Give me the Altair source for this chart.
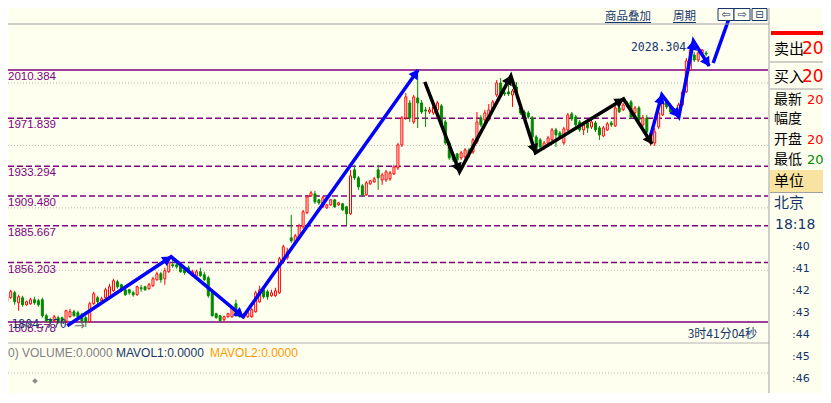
import math
import altair as alt
import pandas as pd

BG = "#FFFFF0"
RED = "#FF0000"
GREEN = "#008A00"
PURPLE = "#800080"
NAVY = "#14366B"
BLUE = "#0000FF"
W, H = 815, 385
X_DOM = [1.575, 205.325]
Y_DOM = [1751.72, 2060.03]

# ---------------- candle data ----------------
opens = [1824.8, 1828.0, 1832.0, 1824.0, 1828.0, 1822.4, 1823.2, 1826.4, 1825.6, 1826.4,
         1813.6, 1810.4, 1809.6, 1812.0, 1812.0, 1808.8, 1812.8, 1816.8, 1816.0, 1814.4,
         1812.0, 1808.8, 1823.2, 1828.0, 1825.6, 1828.0, 1828.0, 1833.6, 1840.8, 1838.4,
         1834.4, 1834.4, 1832.0, 1830.4, 1836.0, 1836.8, 1835.2, 1837.6, 1842.4, 1847.2,
         1843.2, 1848.8, 1854.4, 1854.4, 1853.6, 1850.4, 1852.0, 1845.6, 1845.6, 1848.8,
         1846.4, 1844.0, 1832.0, 1815.2, 1813.6, 1810.4, 1812.8, 1812.8, 1823.2, 1816.8,
         1812.0, 1812.8, 1812.8, 1816.8, 1824.8, 1834.4, 1832.8, 1829.6, 1829.6, 1832.0,
         1856.8, 1860.0, 1876.0, 1872.0, 1876.0, 1884.8, 1896.0, 1909.6, 1911.2, 1906.4,
         1900.8, 1900.0, 1902.4, 1906.4, 1902.4, 1903.2, 1900.8, 1895.2, 1930.4, 1924.0,
         1917.6, 1910.4, 1919.2, 1920.8, 1930.4, 1922.4, 1922.4, 1923.2, 1927.2, 1932.0,
         1950.4, 1972.0, 1984.0, 1968.8, 1988.0, 1984.0, 1978.4, 1976.8, 1976.0, 1978.4,
         1981.6, 1968.8, 1952.0, 1942.4, 1943.2, 1940.0, 1940.8, 1946.4, 1944.8, 1952.8,
         1972.0, 1970.4, 1970.4, 1978.4, 1990.4, 2000.0, 1992.0, 1992.8, 1990.4, 1996.8,
         1980.0, 1976.8, 1976.0, 1972.0, 1956.8, 1954.4, 1948.0, 1952.0, 1954.4, 1962.4,
         1960.0, 1952.0, 1962.4, 1975.2, 1972.8, 1968.8, 1962.4, 1968.0, 1964.8, 1968.0,
         1964.0, 1957.6, 1962.4, 1968.0, 1965.6, 1980.0, 1978.4, 1984.0, 1984.8, 1976.0,
         1980.0, 1966.4, 1972.0, 1952.0, 1952.0, 1964.8, 1974.4, 1984.8, 1980.8, 1978.4,
         1978.4, 1982.4, 1992.8, 2010.4, 2022.4, 2018.4, 2024.0, 2024.0]
highs = [1830.4, 1834.4, 1833.6, 1830.4, 1829.6, 1825.6, 1828.0, 1828.8, 1827.2, 1828.0,
         1815.2, 1812.0, 1814.4, 1813.6, 1812.8, 1818.4, 1819.2, 1818.4, 1817.6, 1816.0,
         1813.6, 1824.8, 1832.8, 1829.6, 1828.8, 1836.0, 1839.2, 1843.2, 1842.4, 1839.2,
         1835.2, 1835.2, 1833.6, 1837.6, 1838.4, 1837.6, 1840.0, 1844.8, 1848.8, 1848.8,
         1852.0, 1860.0, 1858.4, 1856.8, 1856.0, 1852.0, 1853.6, 1850.4, 1850.4, 1852.0,
         1848.8, 1845.6, 1832.8, 1816.0, 1814.4, 1813.6, 1816.0, 1821.6, 1826.4, 1818.4,
         1816.0, 1816.8, 1820.0, 1833.6, 1837.6, 1836.0, 1834.4, 1834.4, 1836.0, 1860.8,
         1870.4, 1868.0, 1894.4, 1879.2, 1887.2, 1898.4, 1910.4, 1913.6, 1913.6, 1907.2,
         1909.6, 1903.2, 1907.2, 1907.2, 1904.8, 1904.0, 1901.6, 1930.4, 1934.4, 1925.6,
         1919.2, 1921.6, 1922.4, 1924.8, 1934.4, 1928.0, 1930.4, 1929.6, 1934.4, 1952.0,
         1973.6, 1992.0, 1986.4, 1990.4, 2006.4, 1986.4, 1980.8, 1980.8, 1983.2, 1985.6,
         1983.2, 1970.4, 1953.6, 1944.0, 1944.0, 1945.6, 1948.0, 1948.0, 1956.0, 1976.8,
         1974.4, 1978.4, 1983.2, 1986.4, 2002.4, 2004.0, 1996.0, 1998.4, 1995.2, 2000.8,
         1981.6, 1978.4, 1977.6, 1973.6, 1958.4, 1956.0, 1953.6, 1957.6, 1964.0, 1964.0,
         1961.6, 1964.8, 1976.0, 1976.8, 1974.4, 1970.4, 1968.0, 1969.6, 1970.4, 1969.6,
         1965.6, 1965.6, 1968.8, 1969.6, 1983.2, 1981.6, 1984.0, 1985.6, 1986.4, 1981.6,
         1981.6, 1974.4, 1974.4, 1961.6, 1964.0, 1978.4, 1986.4, 1986.4, 1982.4, 1980.0,
         1984.0, 1994.4, 2020.0, 2028.304, 2024.8, 2025.6, 2027.2, 2025.6]
lows = [1823.2, 1827.2, 1822.4, 1817.6, 1820.8, 1821.6, 1822.4, 1822.4, 1820.8, 1812.0,
        1808.0, 1807.2, 1808.8, 1807.2, 1808.0, 1808.0, 1812.0, 1812.8, 1812.0, 1807.2,
        1804.77, 1808.0, 1822.4, 1822.4, 1824.0, 1827.2, 1827.2, 1832.8, 1835.2, 1832.8,
        1829.6, 1830.4, 1828.8, 1829.6, 1832.8, 1833.6, 1834.4, 1836.8, 1841.6, 1840.0,
        1838.4, 1848.0, 1852.0, 1851.2, 1848.0, 1846.4, 1848.0, 1844.8, 1844.0, 1844.8,
        1841.6, 1828.0, 1812.8, 1811.2, 1808.8, 1808.8, 1812.0, 1812.0, 1812.8, 1812.0,
        1811.2, 1812.0, 1812.0, 1816.0, 1824.0, 1827.2, 1826.4, 1828.8, 1828.8, 1831.2,
        1855.2, 1858.4, 1872.0, 1870.4, 1874.4, 1883.2, 1895.2, 1908.8, 1903.2, 1902.4,
        1900.0, 1899.2, 1901.6, 1900.0, 1901.6, 1897.6, 1885.6, 1894.4, 1922.4, 1914.4,
        1908.8, 1909.6, 1918.4, 1920.0, 1914.4, 1918.4, 1920.8, 1921.6, 1926.4, 1930.4,
        1948.8, 1970.4, 1968.8, 1967.2, 1964.0, 1975.2, 1964.8, 1975.2, 1974.4, 1976.8,
        1964.8, 1950.4, 1938.4, 1936.8, 1936.0, 1938.4, 1939.2, 1940.0, 1943.2, 1951.2,
        1964.8, 1968.8, 1969.6, 1976.8, 1988.8, 1988.8, 1989.6, 1989.6, 1980.8, 1990.4,
        1974.4, 1970.4, 1971.2, 1955.2, 1944.8, 1947.2, 1946.4, 1950.4, 1952.8, 1948.8,
        1955.2, 1950.4, 1961.6, 1969.6, 1964.8, 1960.8, 1958.4, 1960.0, 1963.2, 1960.8,
        1954.4, 1956.8, 1961.6, 1964.8, 1964.8, 1976.0, 1977.6, 1980.8, 1971.2, 1974.4,
        1968.8, 1964.8, 1954.4, 1949.6, 1949.6, 1963.2, 1973.6, 1979.2, 1975.2, 1974.4,
        1976.8, 1981.6, 1992.0, 2009.6, 2016.8, 2016.8, 2022.4, 2021.6]
closes = [1828.8, 1832.8, 1824.8, 1828.8, 1822.4, 1824.8, 1826.4, 1824.0, 1822.4, 1813.6,
          1809.6, 1808.8, 1812.8, 1808.8, 1809.6, 1817.6, 1816.8, 1813.6, 1812.8, 1809.6,
          1808.8, 1823.2, 1831.2, 1824.8, 1827.2, 1834.4, 1836.8, 1841.6, 1836.8, 1835.2,
          1830.4, 1832.0, 1830.4, 1836.8, 1835.2, 1834.4, 1838.4, 1843.2, 1847.2, 1842.4,
          1849.6, 1856.0, 1853.6, 1852.8, 1848.8, 1848.0, 1848.8, 1848.8, 1848.8, 1845.6,
          1842.4, 1829.6, 1813.6, 1812.0, 1809.6, 1812.8, 1815.2, 1820.0, 1813.6, 1812.8,
          1814.4, 1816.0, 1818.4, 1832.0, 1834.4, 1828.8, 1828.8, 1832.0, 1833.6, 1859.2,
          1868.8, 1864.8, 1873.6, 1877.6, 1885.6, 1896.8, 1908.8, 1912.0, 1904.8, 1904.0,
          1908.0, 1902.4, 1906.4, 1900.8, 1904.0, 1898.4, 1895.2, 1925.6, 1924.0, 1916.8,
          1910.4, 1920.0, 1921.6, 1923.2, 1924.0, 1926.4, 1928.8, 1928.0, 1932.8, 1950.4,
          1972.0, 1988.8, 1972.0, 1988.8, 1984.0, 1976.8, 1977.6, 1978.4, 1980.8, 1984.0,
          1966.4, 1952.0, 1940.0, 1938.4, 1938.4, 1944.0, 1946.4, 1943.2, 1954.4, 1968.8,
          1966.4, 1976.0, 1978.4, 1984.8, 2000.0, 1990.4, 1991.2, 1991.2, 1993.6, 1992.0,
          1976.0, 1972.0, 1972.8, 1956.8, 1946.4, 1948.8, 1952.0, 1956.0, 1962.4, 1958.4,
          1956.8, 1963.2, 1974.4, 1971.2, 1966.4, 1962.4, 1966.4, 1964.0, 1968.8, 1962.4,
          1958.4, 1964.0, 1967.2, 1966.4, 1980.0, 1976.8, 1982.4, 1982.4, 1972.8, 1980.0,
          1970.4, 1972.0, 1960.8, 1960.0, 1960.8, 1976.0, 1984.0, 1980.8, 1976.8, 1976.0,
          1982.4, 1992.8, 2017.6, 2026.4, 2018.4, 2024.0, 2026.4, 2023.2]

fib_levels = [2010.384, 1971.839, 1933.294, 1909.480, 1885.667, 1856.203, 1808.578]
fib_labels = ["2010.384", "1971.839", "1933.294", "1909.480", "1885.667", "1856.203", "1808.578"]
fib_styles = ["solid", "dash", "dash", "dash", "dash", "dash", "solid"]
grid_levels = [2000, 1950, 1900, 1850]

# hand-drawn arrow paths (bar index, price)
blue_paths = [
    ([15.3, 41.6, 59.8, 104.1], [1805.6, 1860.8, 1812.8, 2010.4]),
    ([162.6, 165.8, 170.1, 173.8, 177.8], [1953.6, 1990.4, 1972.8, 2033.6, 2013.6]),
    ([178.8, 184.1], [2016.0, 2063.2]),
]
black_paths = [
    ([105.8, 114.6, 127.6, 133.8, 156.1, 163.3], [2000.8, 1928.8, 2005.6, 1944.0, 1987.2, 1951.2]),
]

time_labels = [":40", ":41", ":42", ":43", ":44", ":45", ":46", ":47"]

# ---------------- tables ----------------
n = len(closes)
candles = pd.DataFrame({
    "k": list(range(n)), "o": opens, "h": highs, "l": lows, "c": closes,
})
candles["dir"] = ["up" if c >= o else "down" for o, c in zip(opens, closes)]

fib = pd.DataFrame({"level": fib_levels, "label": fib_labels, "style": fib_styles})
grid = pd.DataFrame({"level": grid_levels})

PX_K = W / (X_DOM[1] - X_DOM[0])
PX_P = H / (Y_DOM[1] - Y_DOM[0])


def path_frames(paths):
    rows, heads = [], []
    for g, (ks, ps) in enumerate(paths):
        for i, (k, p) in enumerate(zip(ks, ps)):
            rows.append({"g": g, "seq": i, "k": k, "p": p})
            if i > 0:
                dx = (k - ks[i - 1]) * PX_K
                dy = (p - ps[i - 1]) * PX_P
                ang = math.degrees(math.atan2(dx, dy)) % 360
                L = math.hypot(dx, dy)
                ux, uy = dx / L, dy / L
                back = 4.0
                heads.append({"k": k - ux * back / PX_K, "p": p - uy * back / PX_P, "angle": ang})
    return pd.DataFrame(rows), pd.DataFrame(heads)


blue_df, blue_heads = path_frames(blue_paths)
black_df, black_heads = path_frames(black_paths)

kmax = max(range(n), key=lambda i: highs[i])
kmin = min(range(n), key=lambda i: lows[i])
hi_df = pd.DataFrame({"k": [kmax], "p": [highs[kmax]], "t": [f"{highs[kmax]:.3f}"]})
lo_df = pd.DataFrame({"k": [kmin], "p": [lows[kmin]], "t": [f"{lows[kmin]:.3f}"]})


def X(field="k"):
    return alt.X(f"{field}:Q", scale=alt.Scale(domain=X_DOM, nice=False, zero=False), axis=None)


def Y(field):
    return alt.Y(f"{field}:Q", scale=alt.Scale(domain=Y_DOM, nice=False, zero=False), axis=None)


dummy = pd.DataFrame({"d": [0]})


def txt(s, x, y, color="#000000", size=12, font="DejaVu Sans", align="left", baseline="middle"):
    return alt.Chart(dummy).mark_text(text=s, color=color, fontSize=size, font=font,
                                      align=align, baseline=baseline).encode(
        x=alt.value(x), y=alt.value(y))


def hline(x1, x2, y, color="#A0A0A0", width=1, dash=None):
    kw = dict(color=color, strokeWidth=width)
    if dash:
        kw["strokeDash"] = dash
    return alt.Chart(dummy).mark_rule(**kw).encode(x=alt.value(x1), x2=alt.value(x2), y=alt.value(y))


def vline(x, y1, y2, color="#A0A0A0", width=1):
    return alt.Chart(dummy).mark_rule(color=color, strokeWidth=width).encode(
        x=alt.value(x), y=alt.value(y1), y2=alt.value(y2))


def box(x1, x2, y1, y2, fill, stroke=None):
    kw = dict(fill=fill)
    if stroke:
        kw.update(stroke=stroke, strokeWidth=1)
    return alt.Chart(dummy).mark_rect(**kw).encode(
        x=alt.value(x1), x2=alt.value(x2), y=alt.value(y1), y2=alt.value(y2))


layers = []

# grid + fib lines
layers.append(alt.Chart(grid).mark_rule(color="#B8B8B8", strokeDash=[1, 2]).encode(
    x=alt.value(0), x2=alt.value(760), y=Y("level")))
layers.append(alt.Chart(fib).mark_rule(color=PURPLE, strokeWidth=1.5).encode(
    x=alt.value(0), x2=alt.value(760), y=Y("level"),
    strokeDash=alt.StrokeDash("style:N", scale=alt.Scale(domain=["solid", "dash"], range=[[1, 0], [6, 3]]), legend=None)))

# candles
for d, col in (("up", RED), ("down", GREEN)):
    layers.append(alt.Chart(candles).transform_filter(f"datum.dir == '{d}'").mark_rule(color=col, strokeWidth=1).encode(
        x=X(), y=Y("l"), y2=alt.Y2("h")))
layers.append(alt.Chart(candles).transform_filter("datum.dir == 'up'").mark_bar(
    size=2, fill=BG, stroke=RED, strokeWidth=1).encode(x=X(), y=Y("o"), y2=alt.Y2("c")))
layers.append(alt.Chart(candles).transform_filter("datum.dir == 'down'").mark_bar(
    size=2, fill=GREEN, stroke=GREEN, strokeWidth=1).encode(x=X(), y=Y("o"), y2=alt.Y2("c")))

# fib labels
layers.append(alt.Chart(fib).mark_text(align="left", baseline="middle", dy=7, fontSize=11.5,
                                      font="Liberation Sans", color=PURPLE).encode(
    x=alt.value(0), y=Y("level"), text="label:N"))

# high / low markers
layers.append(alt.Chart(hi_df).mark_text(align="right", baseline="middle", dx=-4, fontSize=11.5,
                                        font="DejaVu Sans Mono", color=NAVY).encode(
    x=X(), y=Y("p"), text="t:N"))
layers.append(alt.Chart(lo_df).mark_text(align="right", baseline="middle", dx=-19, dy=-2, fontSize=11.5,
                                        font="DejaVu Sans Mono", color=NAVY).encode(
    x=X(), y=Y("p"), text="t:N"))
layers.append(alt.Chart(lo_df).mark_text(align="right", baseline="middle", dx=-1, dy=-1, fontSize=13,
                                        font="DejaVu Sans", color="#707070", text="→").encode(
    x=X(), y=Y("p")))

# hand-drawn arrows
for df, hd, col in ((blue_df, blue_heads, BLUE), (black_df, black_heads, "#000000")):
    layers.append(alt.Chart(df).mark_line(color=col, strokeWidth=3.5).encode(
        x=X(), y=Y("p"), detail="g:N", order="seq:Q"))
    layers.append(alt.Chart(hd).mark_point(shape="triangle-up", filled=True, size=120, color=col, opacity=1).encode(
        x=X(), y=Y("p"), angle=alt.Angle("angle:Q", scale=None)))

# frame lines
layers.append(hline(0, 761, 16))
layers.append(hline(0, 761, 335, color="#B4B4B4"))
layers.append(hline(0, 761, 365, color="#B8B8B8", dash=[1, 2]))
layers.append(vline(761, 0, H))

# header
layers.append(txt("商品叠加", 597, 8.5, NAVY, 11.5, "Noto Sans CJK SC"))
layers.append(hline(597, 643, 14.5, NAVY))
layers.append(txt("周期", 665, 8.5, NAVY, 11.5, "Noto Sans CJK SC"))
layers.append(hline(665, 688, 14.5, NAVY))
layers.append(box(710, 726, 0.5, 12.5, BG, NAVY))
layers.append(box(726, 742, 0.5, 12.5, BG, NAVY))
layers.append(box(744, 759, 0.5, 12.5, BG, NAVY))
layers.append(txt("⇦", 718, 7, NAVY, 11, "DejaVu Sans", "center"))
layers.append(txt("⇨", 734, 7, NAVY, 11, "DejaVu Sans", "center"))
layers.append(txt("⊟", 751.5, 7, NAVY, 10, "DejaVu Sans", "center"))

# volume panel
layers.append(txt("0) VOLUME:0.0000", 0, 345, "#808080", 12, "Liberation Sans"))
layers.append(txt("MAVOL1:0.0000", 108, 345, NAVY, 12, "Liberation Sans"))
layers.append(txt("MAVOL2:0.0000", 202, 345, "#FF9900", 12, "Liberation Sans"))
layers.append(txt("3时41分04秒", 749, 326, NAVY, 12, "Noto Sans CJK SC", "right"))
layers.append(alt.Chart(dummy).mark_point(shape="diamond", size=8, color="#606060", filled=False).encode(
    x=alt.value(27), y=alt.value(373)))

# right info panel
layers.append(box(763, 815, 23, 27, RED))
layers.append(txt("卖出", 766, 41, "#000000", 15, "Noto Sans CJK SC"))
layers.append(txt("20", 794, 41, RED, 17))
layers.append(hline(762, 815, 54))
layers.append(txt("买入", 766, 69, "#000000", 15, "Noto Sans CJK SC"))
layers.append(txt("20", 794, 69, RED, 17))
layers.append(hline(762, 815, 81))
layers.append(txt("最新", 766, 92, "#000000", 14, "Noto Sans CJK SC"))
layers.append(txt("20", 799, 92, RED, 13))
layers.append(txt("幅度", 766, 111, "#000000", 14, "Noto Sans CJK SC"))
layers.append(txt("开盘", 766, 132, "#000000", 14, "Noto Sans CJK SC"))
layers.append(txt("20", 799, 132, RED, 13))
layers.append(txt("最低", 766, 152, "#000000", 14, "Noto Sans CJK SC"))
layers.append(txt("20", 799, 152, GREEN, 13))
layers.append(box(762, 815, 162, 184, "#F8E4A0"))
layers.append(hline(762, 815, 184.5))
layers.append(txt("单位", 766, 173, "#000000", 15, "Noto Sans CJK SC"))
layers.append(txt("北京", 766, 195, NAVY, 15, "Noto Sans CJK SC"))
layers.append(txt("18:18", 767, 217, NAVY, 14))
for i, t in enumerate(time_labels):
    layers.append(txt(t, 784, 239 + 22 * i, NAVY, 11))

chart = alt.layer(*layers).properties(
    width=W, height=H, background=BG, padding=0,
    autosize=alt.AutoSizeParams(type="none"),
).configure_view(stroke=None)

chart.save("out.html", embed_options={"renderer": "svg", "actions": False})
